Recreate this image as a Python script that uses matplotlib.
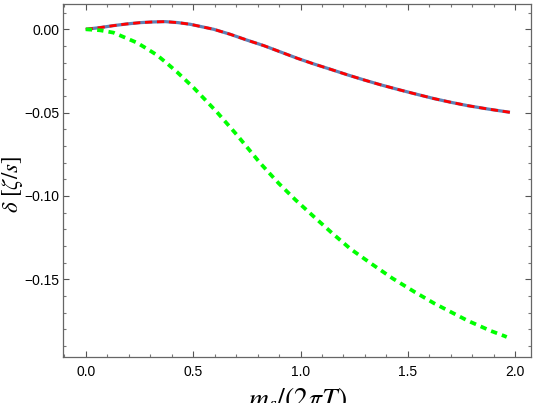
import matplotlib
matplotlib.use("Agg")
import matplotlib.pyplot as plt
from matplotlib.ticker import MultipleLocator, FuncFormatter

# --- data ---
x_blue = [0.0, 0.065, 0.129, 0.19, 0.253, 0.31, 0.37, 0.43, 0.487, 0.596,
          0.673, 0.751, 0.829, 0.907, 0.985, 1.062, 1.140, 1.218, 1.296,
          1.373, 1.451, 1.529, 1.622, 1.700, 1.778, 1.876, 1.975]
y_blue = [0.0, 0.0010, 0.0022, 0.0032, 0.0040, 0.0044, 0.0046, 0.0040, 0.0030,
          0.0, -0.0030, -0.0065, -0.0098, -0.0136, -0.0174, -0.0208, -0.0240,
          -0.0273, -0.0304, -0.0333, -0.0360, -0.0386, -0.0416, -0.0438,
          -0.0458, -0.0479, -0.0498]

x_green = [0.0, 0.067, 0.129, 0.238, 0.284, 0.331, 0.378, 0.424, 0.502, 0.611,
           0.704, 0.813, 0.899, 0.977, 1.062, 1.148, 1.233, 1.327, 1.428,
           1.529, 1.622, 1.778, 1.887, 1.949, 1.96]
y_green = [0.0, -0.0006, -0.0020, -0.0080, -0.0116, -0.0154, -0.0204, -0.0255,
           -0.0350, -0.0497, -0.0634, -0.0804, -0.0925, -0.1024, -0.1124,
           -0.1224, -0.1318, -0.1404, -0.1494, -0.1574, -0.1644, -0.1748,
           -0.1810, -0.1840, -0.1846]

xticks = [0.0, 0.5, 1.0, 1.5, 2.0]
yticks = [0.0, -0.05, -0.10, -0.15]

plt.rcParams['mathtext.fontset'] = 'stix'

fig = plt.figure(figsize=(5.37, 4.03), dpi=100)
ax = fig.add_axes([63.3 / 537, (403 - 357) / 403, (531 - 63.3) / 537, (357 - 4.3) / 403])

ax.plot(x_blue, y_blue, color='#5E81B5', lw=2.3, solid_capstyle='butt', zorder=2)
ax.plot(x_blue, y_blue, color='#FF0000', lw=2.0, dashes=(2.6, 1.7),
        dash_capstyle='butt', zorder=3)
ax.plot(x_green, y_green, color='#00FF00', lw=2.7, dashes=(1.7, 1.35),
        dash_capstyle='butt', zorder=3)

ax.set_xlim(-0.1045, 2.073)
ax.set_ylim(-0.1966, 0.015)

ax.set_xticks(xticks)
ax.set_yticks(yticks)
ax.xaxis.set_minor_locator(MultipleLocator(0.1))
ax.yaxis.set_minor_locator(MultipleLocator(0.01))
ax.xaxis.set_major_formatter(FuncFormatter(lambda v, p: f"{v:.1f}".replace('-', '\u2212')))
ax.yaxis.set_major_formatter(FuncFormatter(
    lambda v, p: ("0.00" if abs(v) < 1e-9 else f"{v:.2f}".replace('-', '\u2212'))))

ax.tick_params(which='both', direction='in', top=True, right=True,
               color='#555555', width=0.8)
ax.tick_params(which='major', length=4.3, labelsize=10, labelcolor='#000000')
ax.tick_params(axis='y', which='major', pad=2.5)
ax.tick_params(axis='x', which='major', pad=6)
ax.tick_params(which='minor', length=2.4, color='#777777')
for lab in ax.get_xticklabels() + ax.get_yticklabels():
    lab.set_fontfamily('Liberation Sans')

for sp in ax.spines.values():
    sp.set_color('#666666')
    sp.set_linewidth(0.9)

ax.set_xlabel(r'$m_s/(2\pi T)$', fontsize=20, labelpad=4)
ax.set_ylabel(r'$\delta\ [\zeta/s]$', fontsize=16.5)
ax.yaxis.set_label_coords(-0.082, 0.49)

fig.savefig('out.png', dpi=100)
